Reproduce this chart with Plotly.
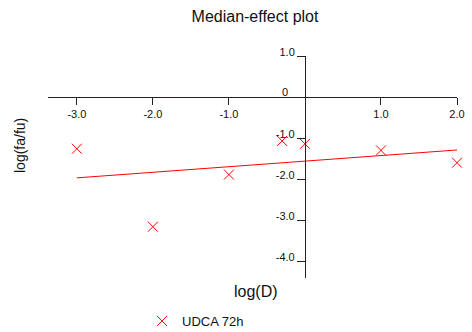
import plotly.graph_objects as go

# Median-effect data: log(dose) vs log(fa/fu)
log_d = [-3.0, -2.0, -1.0, -0.3, 0.0, 1.0, 2.0]
log_fa_fu = [-1.26, -3.16, -1.89, -1.07, -1.14, -1.30, -1.60]

# Fitted median-effect line end points
fit_x = [-3.0, 2.0]
fit_y = [-1.97, -1.29]

x_ticks = [-3.0, -2.0, -1.0, 1.0, 2.0]
y_ticks = [1.0, -1.0, -2.0, -3.0, -4.0]

x_range = [-3.38, 2.0]
y_range = [-4.41, 1.0]

series_name = "UDCA 72h"
red = "#ff0000"
font_family = "Liberation Sans, Arial, sans-serif"

W, H = 472, 332
ML, MR, MT, MB = 48, 15, 56, 54
plot_w = W - ML - MR
plot_h = H - MT - MB


def px_to_paper(px, py):
    """Figure pixel position -> paper coordinates."""
    return (px - ML) / plot_w, 1 - (py - MT) / plot_h


fig = go.Figure()

fig.add_trace(go.Scatter(
    x=fit_x, y=fit_y, mode="lines",
    line=dict(color=red, width=1),
    showlegend=False, hoverinfo="skip",
))

fig.add_trace(go.Scatter(
    x=log_d, y=log_fa_fu, mode="markers", name=series_name,
    marker=dict(symbol="x-thin-open", size=10, color=red,
                line=dict(color=red, width=1)),
    cliponaxis=False,
))

# Axes cross at the origin
x_pos = (0 - y_range[0]) / (y_range[1] - y_range[0])
y_pos = (0 - x_range[0]) / (x_range[1] - x_range[0])

xt_x, xt_y = px_to_paper(256, 291)
yt_x, yt_y = px_to_paper(20, 146)
lg_x, lg_y = px_to_paper(142, 321)

fig.update_layout(
    width=W, height=H,
    margin=dict(l=ML, r=MR, t=MT, b=MB, autoexpand=False),
    paper_bgcolor="white", plot_bgcolor="white",
    font=dict(family=font_family, size=11, color="#111111"),
    title=dict(text="Median-effect plot", x=255 / W, xref="container",
               xanchor="center", y=1 - 16 / H, yref="container",
               yanchor="middle", font=dict(size=16, color="#111111")),
    xaxis=dict(
        range=x_range, anchor="free", position=x_pos, automargin=False,
        showline=True, linecolor="#222222", linewidth=1,
        ticks="outside", ticklen=7, tickcolor="#222222",
        tickvals=x_ticks, ticktext=[f"{v:.1f}" for v in x_ticks],
        showgrid=False, zeroline=False,
    ),
    yaxis=dict(
        range=y_range, anchor="free", position=y_pos, automargin=False,
        showline=True, linecolor="#222222", linewidth=1,
        ticks="outside", ticklen=8, tickcolor="#222222",
        tickvals=y_ticks, ticktext=[f"{v:.1f}" for v in y_ticks],
        ticklabelshift=-4,
        showgrid=False, zeroline=False,
    ),
    showlegend=True,
    legend=dict(orientation="h", x=lg_x, xanchor="left",
                y=lg_y, yanchor="middle",
                font=dict(size=13, color="#111111"),
                bgcolor="rgba(0,0,0,0)", itemwidth=30),
    annotations=[
        dict(text="0", x=-0.2, y=0.13, xref="x", yref="y",
             xanchor="right", yanchor="middle", showarrow=False,
             font=dict(size=11)),
        dict(text="log(D)", x=xt_x, y=xt_y,
             xref="paper", yref="paper", showarrow=False,
             xanchor="center", yanchor="middle", font=dict(size=16)),
        dict(text="log(fa/fu)", x=yt_x, y=yt_y,
             xref="paper", yref="paper", showarrow=False, textangle=-90,
             xanchor="center", yanchor="middle", font=dict(size=14)),
    ],
)

fig.write_html("out.html")
